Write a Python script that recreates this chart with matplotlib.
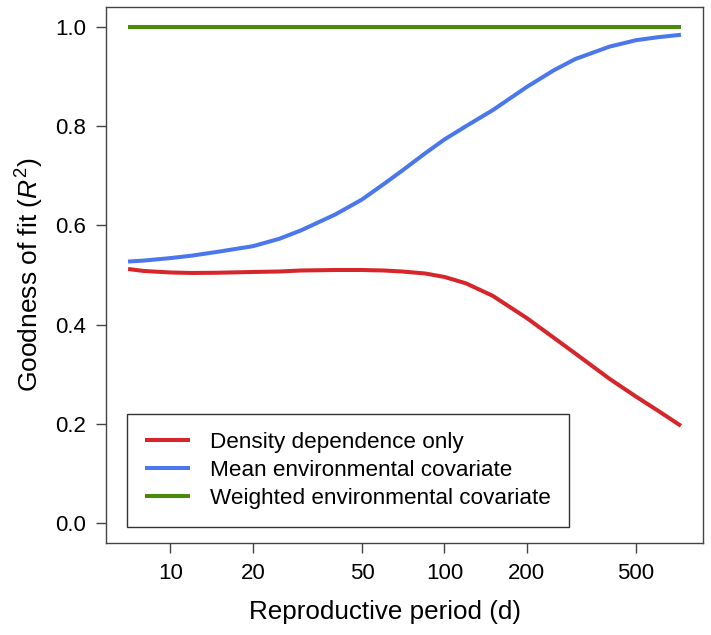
import numpy as np
import matplotlib
matplotlib.use("Agg")
import matplotlib.pyplot as plt

plt.rcParams['font.family'] = ['Liberation Sans', 'DejaVu Sans']
plt.rcParams['mathtext.fontset'] = 'custom'
plt.rcParams['mathtext.rm'] = 'Liberation Sans'
plt.rcParams['mathtext.it'] = 'Liberation Sans:italic'

# reproductive period (d)
period = [7, 8, 10, 12, 15, 20, 25, 30, 40, 50, 60, 70, 85, 100, 120, 150,
          200, 250, 300, 400, 500, 600, 730]

density_only = [0.512, 0.508, 0.505, 0.504, 0.5045, 0.506, 0.507, 0.509, 0.510, 0.510,
                0.509, 0.507, 0.503, 0.496, 0.483, 0.458, 0.413, 0.374, 0.342, 0.291,
                0.255, 0.227, 0.196]
mean_env = [0.527, 0.529, 0.534, 0.539, 0.547, 0.558, 0.573, 0.590, 0.622, 0.652,
            0.683, 0.710, 0.745, 0.773, 0.800, 0.832, 0.879, 0.912, 0.935, 0.960,
            0.973, 0.979, 0.984]
weighted_env = [0.999] * len(period)

series = [
    ("Density dependence only", density_only, "#d7262b"),
    ("Mean environmental covariate", mean_env, "#4a78ec"),
    ("Weighted environmental covariate", weighted_env, "#4b8b0a"),
]

xticks = [10, 20, 50, 100, 200, 500]
yticks = [0.0, 0.2, 0.4, 0.6, 0.8, 1.0]

fig = plt.figure(figsize=(7.11, 6.35), dpi=100)
ax = fig.add_axes([0.149, 0.145, 0.8398, 0.844])

for label, vals, col in series:
    ax.plot(period, vals, color=col, lw=2.9, label=label, solid_capstyle='butt')

ax.set_xscale('log')
lo, hi = np.log10(period[0]), np.log10(period[-1])
pad = 0.04 * (hi - lo)
ax.set_xlim(10 ** (lo - pad), 10 ** (hi + pad))
ax.set_ylim(-0.04, 1.04)

ax.set_xticks(xticks)
ax.set_xticklabels([str(t) for t in xticks])
ax.xaxis.set_minor_locator(matplotlib.ticker.NullLocator())
ax.set_yticks(yticks)
ax.set_yticklabels([f"{t:.1f}" for t in yticks])

for s in ax.spines.values():
    s.set_color('#444444')
    s.set_linewidth(1.0)
ax.tick_params(axis='both', length=7.5, width=1.0, color='#444444',
               labelsize=16, pad=7)

ax.set_xlabel("Reproductive period (d)", fontsize=18.7, va='center')
ax.xaxis.set_label_coords(0.467, -0.129)
ax.set_ylabel(r"Goodness of fit ($\mathit{R}^2$)", fontsize=19, va='center')
ax.yaxis.set_label_coords(-0.128, 0.5)

leg = ax.legend(loc='lower left', bbox_to_anchor=(0.035, 0.03), fontsize=16.2,
                frameon=True, fancybox=False, edgecolor='black',
                handlelength=2.0, handletextpad=0.9, borderpad=0.8,
                labelspacing=0.3, borderaxespad=0)
leg.get_frame().set_linewidth(1.0)

fig.savefig("out.png", dpi=100)
